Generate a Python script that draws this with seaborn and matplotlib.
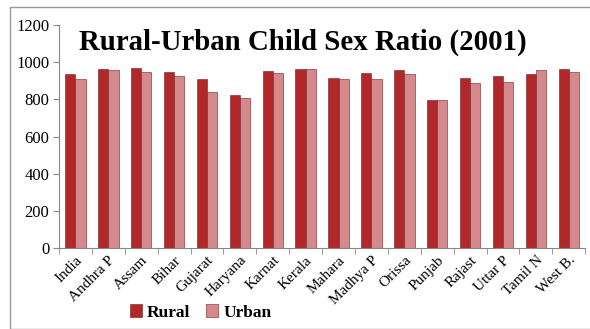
import matplotlib
matplotlib.use("Agg")
import matplotlib.pyplot as plt
import seaborn as sns
import pandas as pd
import numpy as np
from matplotlib.patches import Rectangle, Patch

states = ["India", "Andhra P", "Assam", "Bihar", "Gujarat", "Haryana", "Karnat", "Kerala",
          "Mahara", "Madhya P", "Orissa", "Punjab", "Rajast", "Uttar P", "Tamil N", "West B."]
rural = [936, 962, 968, 946, 907, 824, 950, 961, 917, 941, 956, 798, 916, 923, 936, 965]
urban = [907, 956, 946, 926, 837, 809, 941, 961, 909, 908, 937, 799, 887, 892, 956, 949]
series = ["Rural", "Urban"]
colors = ["#B0282A", "#D48A8C"]

df = pd.DataFrame({
    "State": states * 2,
    "Series": [series[0]] * len(states) + [series[1]] * len(states),
    "Value": rural + urban,
})

sns.set_style("white")
plt.rcParams["font.family"] = ["Liberation Serif", "DejaVu Serif"]
plt.rcParams["text.color"] = "black"
plt.rcParams["xtick.labelcolor"] = "black"
plt.rcParams["ytick.labelcolor"] = "black"

fig = plt.figure(figsize=(5.9, 3.29), dpi=100)
ax = fig.add_axes([0.1, 0.246, 0.892, 0.678])

sns.barplot(data=df, x="State", y="Value", hue="Series", palette=colors, width=0.62,
            saturation=1, ax=ax, legend=False, edgecolor="#7a1a1a", linewidth=0.4)

ax.set_ylim(0, 1200)
ax.set_xlim(-0.5, len(states) - 0.5)
ax.set_yticks(range(0, 1201, 200))
ax.tick_params(axis="y", labelsize=12, length=4, color="#888888", labelcolor="black",
               left=True, direction="out", pad=3)
ax.set_xticks(range(len(states)))
ax.set_xticklabels(states, rotation=45, ha="right", rotation_mode="anchor", fontsize=11)
ax.tick_params(axis="x", which="major", length=0, pad=4, labelcolor="black")
ax.set_xticks(np.arange(-0.5, len(states), 1), minor=True)
ax.tick_params(axis="x", which="minor", length=4, color="#888888", bottom=True, direction="out")
ax.set_xlabel("")
ax.set_ylabel("")
for s in ["top", "right"]:
    ax.spines[s].set_visible(False)
for s in ["left", "bottom"]:
    ax.spines[s].set_color("#888888")
    ax.spines[s].set_linewidth(0.8)

fig.text(0.514, 0.872, "Rural-Urban Child Sex Ratio (2001)", ha="center", va="center",
         fontsize=20.8, fontweight="bold", color="black")

handles = [Patch(facecolor=c, edgecolor="#7a1a1a", linewidth=0.4) for c in colors]
fig.legend(handles, series, loc="center", bbox_to_anchor=(0.34, 0.05), ncol=2, frameon=False,
           prop={"weight": "bold", "size": 12.5}, handlelength=0.7, handleheight=0.7,
           handletextpad=0.3, columnspacing=0.9, labelcolor="black")

fig.patches.append(Rectangle((10 / 590, 0), 1.2, 1 - 7 / 329, transform=fig.transFigure,
                             fill=False, edgecolor="#999999", linewidth=1.0, zorder=0))

fig.savefig("out.png", dpi=100)
